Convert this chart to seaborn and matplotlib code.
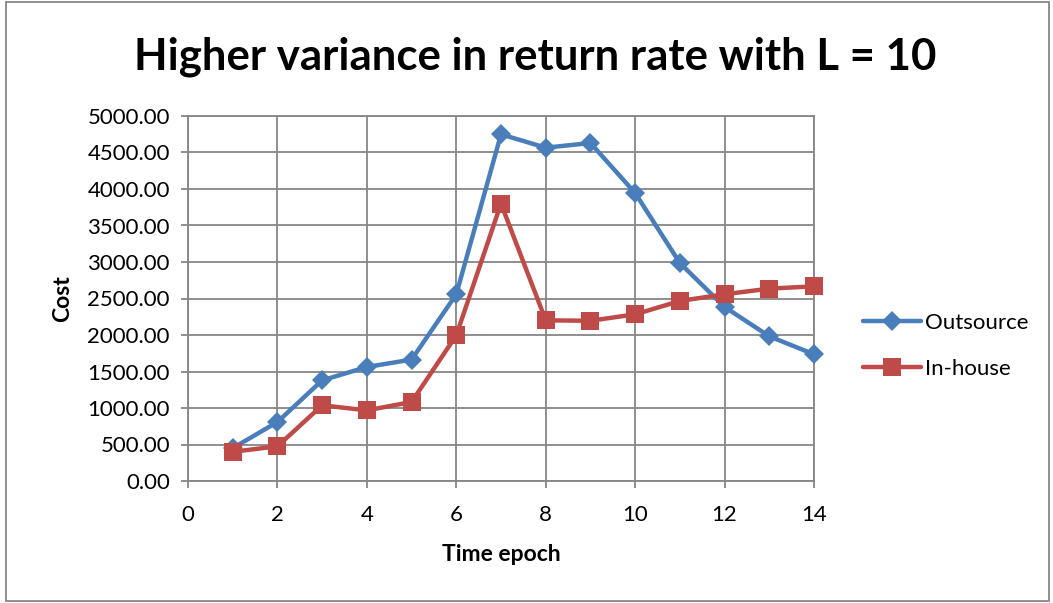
import matplotlib
matplotlib.use("Agg")
import matplotlib.pyplot as plt
import seaborn as sns
import pandas as pd
from matplotlib.patches import Rectangle
from matplotlib.ticker import FormatStrFormatter, MultipleLocator

epochs = list(range(1, 15))
outsource = [450, 808, 1379, 1562, 1663, 2558, 4749, 4566, 4630, 3945, 2986, 2384, 1982, 1736]
inhouse = [400, 475, 1037, 968, 1082, 1996, 3800, 2201, 2195, 2283, 2466, 2558, 2635, 2667]
series_names = ["Outsource", "In-house"]
title = "Higher variance in return rate with L = 10"

df = pd.concat([
    pd.DataFrame({"epoch": epochs, "cost": outsource, "series": series_names[0]}),
    pd.DataFrame({"epoch": epochs, "cost": inhouse, "series": series_names[1]}),
])

sns.set_theme(style="white")
plt.rcParams["font.family"] = ["Lato", "DejaVu Sans"]
plt.rcParams["text.color"] = "black"
plt.rcParams["axes.labelcolor"] = "black"

fig = plt.figure(figsize=(10.53, 6.03), dpi=100)
ax = fig.add_axes([188 / 1053, 1 - 481 / 603, (814 - 188) / 1053, (481 - 116) / 603])

palette = {"Outsource": "#4a7ebb", "In-house": "#be4b48"}
markers = {"Outsource": "D", "In-house": "s"}
sizes = {"Outsource": 10.5, "In-house": 12.5}
for name in series_names:
    sub = df[df["series"] == name]
    sns.lineplot(data=sub, x="epoch", y="cost", ax=ax, color=palette[name],
                 marker=markers[name], markersize=sizes[name], linewidth=3.2,
                 markeredgewidth=0, label=name, clip_on=False, zorder=3)

ax.set_xlim(0, 14)
ax.set_ylim(0, 5000)
ax.xaxis.set_major_locator(MultipleLocator(2))
ax.yaxis.set_major_locator(MultipleLocator(500))
ax.yaxis.set_major_formatter(FormatStrFormatter("%.2f"))
ax.grid(True, color="#868686", linewidth=1.3)
ax.set_axisbelow(True)
for s in ax.spines.values():
    s.set_color("#868686")
    s.set_linewidth(1.3)
ax.tick_params(axis="both", which="major", length=5, color="#868686", width=1.3,
               labelsize=16, labelcolor="black", direction="out",
               bottom=True, left=True)
ax.tick_params(axis="x", pad=12)
ax.tick_params(axis="y", pad=8)
ax.set_xlabel("Time epoch", fontsize=16.5, fontweight="bold", labelpad=14)
ax.set_ylabel("Cost", fontsize=16.5, fontweight="bold", labelpad=10)

fig.text(0.508, 1 - 57 / 603, title, ha="center", va="center",
         fontsize=31.5, fontweight="bold", color="black")

leg = ax.legend(loc="center left", bbox_to_anchor=(1.047, 0.37), frameon=False,
                fontsize=16, handlelength=2.6, labelspacing=1.15, handletextpad=0.15)
for t in leg.get_texts():
    t.set_color("black")

fig.patches.append(Rectangle((0.006, 0.003), 0.99, 0.994, transform=fig.transFigure,
                             fill=False, edgecolor="#868686", linewidth=1.3))

fig.savefig("out.png", dpi=100)
